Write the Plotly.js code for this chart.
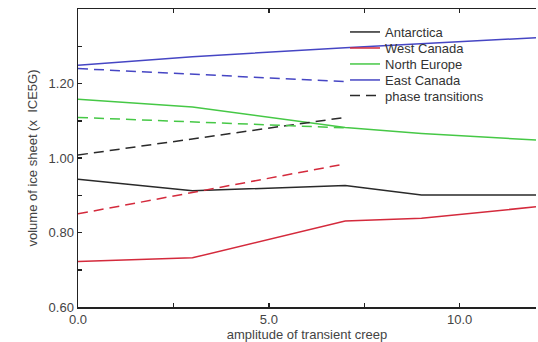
<!DOCTYPE html>
<html>
<head>
<meta charset="utf-8">
<script src="https://cdn.plot.ly/plotly-3.0.1.min.js"></script>
<style>html,body{margin:0;padding:0;background:#fff;}#chart{width:538px;height:342px;}</style>
</head>
<body>
<div id="chart"></div>
<script>
// creep amplitude sample points
var creep = [0, 3, 7, 9, 12];
var antarctica = [0.943, 0.912, 0.926, 0.901, 0.901];
var westCanada = [0.722, 0.732, 0.831, 0.838, 0.869];
var northEurope = [1.158, 1.137, 1.082, 1.066, 1.048];
var eastCanada = [1.249, 1.272, 1.296, 1.307, 1.323];

// phase transitions (dashed)
var creepPhase = [0, 7];
var phaseAntarctica = [1.008, 1.109];
var phaseWestCanada = [0.850, 0.984];
var phaseNorthEurope = [1.109, 1.081];
var phaseEastCanada = [1.240, 1.205];

var xTickVals = [0, 5, 10];
var xTickText = ['0.0', '5.0', '10.0'];
var yTickVals = [0.6, 0.8, 1.0, 1.2];
var yTickText = ['0.60', '0.80', '1.00', '1.20'];

var cBlack = '#2a2a2a', cRed = '#d42a3c', cGreen = '#46c846', cBlue = '#4646c4';
var dash = '10px,6px';
var W = 1.5;

var traces = [
  {x: creep, y: antarctica, name: 'Antarctica', legend: 'legend', line: {color: cBlack, width: W}},
  {x: creep, y: westCanada, name: 'West Canada', legend: 'legend2', line: {color: cRed, width: W}},
  {x: creep, y: northEurope, name: 'North Europe', legend: 'legend3', line: {color: cGreen, width: W}},
  {x: creep, y: eastCanada, name: 'East Canada', legend: 'legend4', line: {color: cBlue, width: W}},
  {x: creepPhase, y: phaseAntarctica, name: 'phase transitions', legend: 'legend5', line: {color: cBlack, width: W, dash: dash}},
  {x: creepPhase, y: phaseWestCanada, showlegend: false, line: {color: cRed, width: W, dash: dash}},
  {x: creepPhase, y: phaseNorthEurope, showlegend: false, line: {color: cGreen, width: W, dash: dash}},
  {x: creepPhase, y: phaseEastCanada, showlegend: false, line: {color: cBlue, width: W, dash: dash}}
];
traces.forEach(function(t){ t.type = 'scatter'; t.mode = 'lines'; t.hoverinfo = 'skip'; });

function leg(y){
  return {x: 0.583, xanchor: 'left', y: y, yanchor: 'middle', bgcolor: 'rgba(0,0,0,0)',
          borderwidth: 0, font: {family: 'Liberation Sans, Arial, sans-serif', size: 13, color: '#333'}};
}

var layout = {
  width: 538, height: 342,
  margin: {l: 78, r: 2, t: 9, b: 35},
  paper_bgcolor: '#fff', plot_bgcolor: '#fff',
  font: {family: 'Liberation Sans, Arial, sans-serif', size: 12, color: '#444'},
  showlegend: true,
  legend: leg(0.9228),
  legend2: leg(0.869),
  legend3: leg(0.8154),
  legend4: leg(0.7617),
  legend5: leg(0.7097),
  xaxis: {
    range: [0, 12], tickmode: 'array', tickvals: xTickVals, ticktext: xTickText,
    ticks: 'inside', ticklen: 4, tickwidth: 1.5, tickcolor: '#222',
    showline: true, linecolor: '#222', linewidth: 1.5, mirror: 'ticks',
    showgrid: false, zeroline: false,
    minor: {tickmode: 'linear', tick0: 0, dtick: 2.5, ticks: 'inside', ticklen: 4, tickcolor: '#222', tickwidth: 1.5, showgrid: false},
    tickfont: {size: 13, color: '#444'},
    title: {text: 'amplitude of transient creep', font: {size: 13, color: '#444'}, standoff: 3}
  },
  yaxis: {
    range: [0.6, 1.4], tickmode: 'array', tickvals: yTickVals, ticktext: yTickText,
    ticks: 'inside', ticklen: 4, tickwidth: 1.5, tickcolor: '#222',
    showline: true, linecolor: '#222', linewidth: 1.5, mirror: false,
    showgrid: false, zeroline: false,
    minor: {tickmode: 'linear', tick0: 0.6, dtick: 0.1, ticks: 'inside', ticklen: 4, tickcolor: '#222', tickwidth: 1.5, showgrid: false},
    tickfont: {size: 13, color: '#444'},
    title: {text: 'volume of ice sheet (x  ICE5G)', font: {size: 13, color: '#444'}, standoff: 8}
  }
};

Plotly.newPlot('chart', traces, layout, {staticPlot: true, displayModeBar: false});
</script>
</body>
</html>
